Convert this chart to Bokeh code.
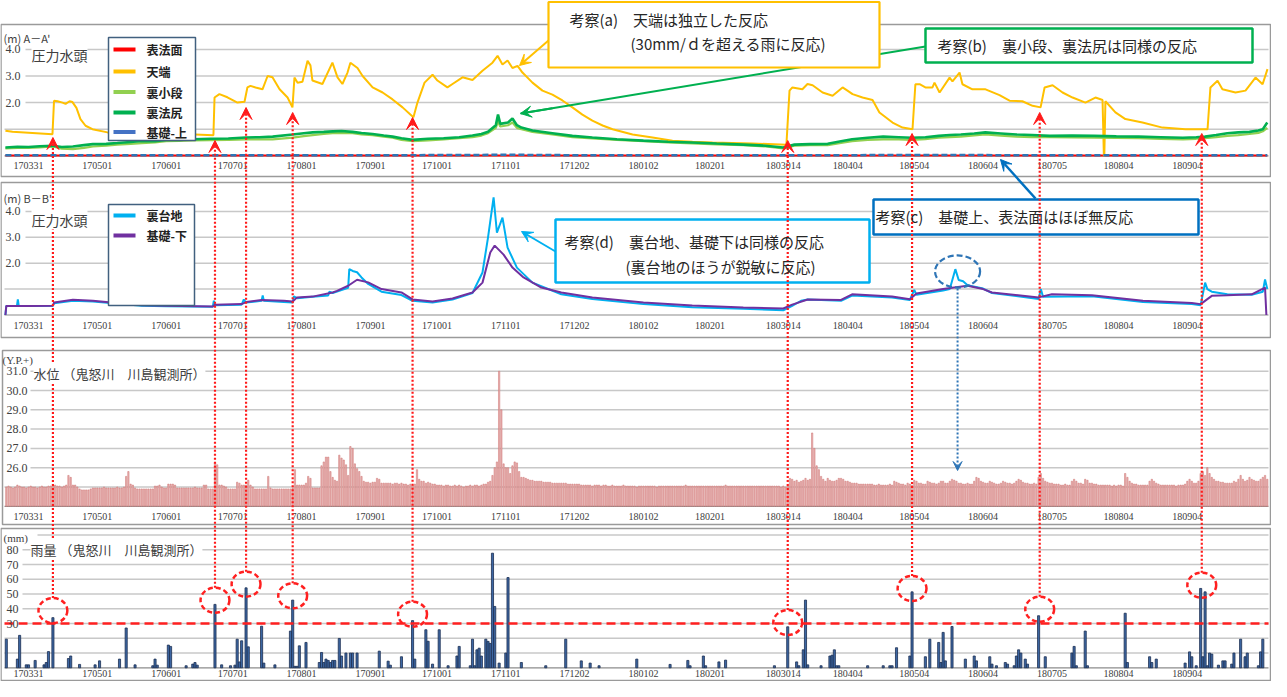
from bokeh.plotting import figure
from bokeh.models import Range1d, Label, Arrow, VeeHead
from bokeh.core.properties import value
from bokeh.embed import file_html
from bokeh.resources import INLINE

JP = "Noto Sans CJK JP"
SERIF = "Liberation Serif"

# ---------------- data ----------------
# x = days since 2017-03-31
tick_days = [0, 31, 62, 92, 123, 154, 184, 215, 246, 277, 307, 340, 369, 399, 430, 461, 491, 522]
tick_labels = ["170331", "170501", "170601", "170701", "170801", "170901", "171001", "171101", "171202",
               "180102", "180201", "1803014", "180404", "180504", "180604", "180705", "180804", "180904"]

# Panel 1: A-A' pressure head (m)
tenba_day = [-10.4, -7.2, 1.8, 10.8, 11.5, 13.1, 15.3, 16.7, 18.5, 19.8, 21.6, 23.4, 25.7, 28.8, 35.6, 51.4, 69.4,
             83.3, 83.8, 86, 89.6, 94.1, 97.3, 98.6, 100, 102.3, 105.4, 107.7, 109.9, 113.1, 116.7, 118.9, 119.8,
             121.2, 123.4, 125.7, 127, 127.9, 132.4, 136.9, 139.2, 141.4, 143.7, 145, 148.2, 150.5, 155, 159.5,
             164, 168.5, 172, 173.4, 175.2, 178.4, 182, 184.2, 188.7, 191, 195.5, 200, 204.5, 209, 211.3, 213.5,
             215.8, 218, 220.3, 222.5, 227, 231.5, 236, 240.5, 245, 249.5, 254, 258.6, 263.1, 272.1, 281.1, 290.1,
             299.1, 308.1, 326.1, 341.4, 342.8, 344.1, 348.6, 350.9, 353.2, 357.7, 362.2, 366.7, 368.9, 371.2,
             375.7, 380.2, 383.3, 389.2, 393.7, 398.2, 399.5, 401.4, 404, 407.2, 408.1, 410.4, 414.9, 416.2,
             419.4, 420.7, 425.2, 431.1, 437.4, 441.9, 447.7, 452.3, 455.9, 457.7, 461.3, 465.8, 470.3, 476.1,
             480.6, 483.8, 484.4, 484.6, 485.1, 489.6, 494.1, 501.8, 510.8, 521.2, 531.1, 532.4, 535.6, 537.8,
             543.7, 548.2, 552.7, 555.9, 558.1]
tenba_val = [0.94, 0.9, 0.86, 0.81, 2.07, 2.05, 2.0, 1.95, 2.05, 2.02, 1.8, 1.38, 1.13, 1.0, 0.88, 0.84, 0.82,
             0.77, 2.19, 2.32, 2.2, 2.0, 2.03, 2.57, 2.63, 2.57, 2.5, 3.0, 2.95, 2.5, 2.19, 1.82, 2.94,
             2.75, 2.78, 3.57, 3.4, 2.83, 2.7, 3.5, 2.95, 2.7, 3.13, 3.5, 3.3, 3.0, 2.57, 2.38,
             2.12, 1.82, 1.55, 1.45, 2.0, 2.75, 3.05, 2.83, 2.57, 2.7, 2.95, 2.85, 3.2, 3.5, 3.76, 3.43,
             3.58, 3.3, 3.38, 3.13, 2.75, 2.45, 2.3, 2.08, 1.82, 1.55, 1.32, 1.14, 1.0, 0.8, 0.69, 0.57,
             0.53, 0.5, 0.46, 0.42, 2.45, 2.57, 2.5, 2.7, 2.65, 2.38, 2.26, 2.57, 2.45, 2.32,
             2.19, 2.1, 1.63, 1.25, 1.06, 1.0, 2.69, 2.69, 2.57, 2.57, 2.75, 2.38, 2.94, 2.8,
             3.13, 2.69, 2.5, 2.5, 2.28, 2.07, 2.05, 1.88, 1.82, 2.57, 2.65, 2.38, 2.19, 2.0,
             2.19, 2.1, 0.0, 0.0, 2.05, 1.63, 1.38, 1.25, 1.06, 1.0, 1.0, 2.57, 2.82, 2.5,
             2.38, 2.45, 2.94, 2.69, 3.26]

hojiri_day = [-10.4, -5, 0, 5, 11, 15, 20, 25, 29, 35, 40, 46, 51, 57, 62, 68, 74, 82, 90, 98, 104, 110, 119,
              124, 128, 133, 137, 141, 146, 150, 155, 160, 164, 168, 173, 180, 187, 194, 200, 204, 207, 210.5,
              211.5, 212.5, 216, 218, 220, 222, 227, 236, 245, 254, 265, 277, 288, 299, 310, 322, 332, 340, 345,
              352, 360, 366, 371, 378, 385, 392, 398, 404, 410, 415, 420, 426, 431, 438, 445, 452, 460, 470, 480,
              490, 500, 510, 520, 526, 530, 535, 540, 545, 550, 554, 556, 558]
hojiri_val = [0.31, 0.34, 0.33, 0.36, 0.38, 0.33, 0.35, 0.4, 0.44, 0.45, 0.48, 0.52, 0.56, 0.55, 0.6, 0.6, 0.62,
              0.64, 0.65, 0.69, 0.7, 0.72, 0.8, 0.85, 0.88, 0.9, 0.92, 0.93, 0.9, 0.86, 0.82, 0.76, 0.72, 0.66,
              0.6, 0.64, 0.66, 0.7, 0.76, 0.82, 0.9, 1.15, 1.55, 1.2, 1.25, 1.4, 1.15, 1.06, 0.95, 0.85, 0.75,
              0.69, 0.62, 0.57, 0.53, 0.5, 0.46, 0.42, 0.38, 0.31, 0.42, 0.44, 0.45, 0.55, 0.62, 0.68, 0.72,
              0.7, 0.68, 0.7, 0.75, 0.78, 0.8, 0.84, 0.88, 0.84, 0.8, 0.78, 0.75, 0.76, 0.75, 0.73, 0.72, 0.7,
              0.68, 0.7, 0.72, 0.78, 0.85, 0.88, 0.9, 0.95, 1.0, 1.25]

kodan_day = [-10.4, -5, 0, 5, 11, 15, 20, 25, 29, 35, 40, 46, 51, 57, 62, 68, 74, 82, 90, 98, 104, 110, 119,
             124, 128, 133, 137, 141, 146, 150, 155, 160, 164, 168, 173, 180, 187, 194, 200, 204, 207, 210.5,
             211.5, 212.5, 216, 218, 220, 222, 227, 236, 245, 254, 265, 277, 288, 299, 310, 322, 332, 340, 345,
             352, 360, 366, 371, 378, 385, 392, 398, 404, 410, 415, 420, 426, 431, 438, 445, 452, 460, 470, 480,
             490, 500, 510, 520, 526, 530, 535, 540, 545, 550, 554, 556, 558]
kodan_val = [0.28, 0.3, 0.3, 0.32, 0.35, 0.27, 0.25, 0.3, 0.35, 0.38, 0.42, 0.45, 0.48, 0.5, 0.55, 0.56, 0.58,
             0.59, 0.6, 0.62, 0.62, 0.62, 0.68, 0.74, 0.78, 0.82, 0.85, 0.86, 0.85, 0.8, 0.78, 0.72, 0.68, 0.6,
             0.55, 0.58, 0.62, 0.66, 0.7, 0.76, 0.85, 1.05, 1.3, 1.1, 1.15, 1.25, 1.05, 1.0, 0.9, 0.8, 0.7,
             0.65, 0.6, 0.55, 0.5, 0.47, 0.43, 0.4, 0.35, 0.28, 0.38, 0.4, 0.4, 0.48, 0.55, 0.6, 0.62,
             0.62, 0.6, 0.63, 0.68, 0.7, 0.72, 0.77, 0.8, 0.76, 0.72, 0.7, 0.7, 0.69, 0.68, 0.67, 0.66, 0.64,
             0.62, 0.64, 0.66, 0.7, 0.75, 0.78, 0.82, 0.86, 0.92, 1.05]

omote_day = [-10.4, 40, 100, 160, 220, 280, 340, 400, 460, 520, 558]
omote_val = [0.01, 0.01, 0.01, 0.01, 0.01, 0.01, 0.01, 0.01, 0.01, 0.01, 0.01]

kiso_ue_day = [-10.4, 20, 60, 100, 150, 200, 215, 250, 300, 350, 400, 420, 450, 500, 558]
kiso_ue_val = [0.02, 0.02, 0.02, 0.02, 0.02, 0.03, 0.04, 0.02, 0.02, 0.02, 0.03, 0.03, 0.02, 0.02, 0.02]

# Panel 2: B-B' pressure head (m)
uradai_day = [-10.4, -10, -5.2, -4.8, -4.4, 0, 11, 11.5, 20, 29, 42, 51, 62, 83, 83.5, 84, 96, 97, 98, 105,
              105.5, 106, 115, 119, 119.5, 121, 128, 135, 135.5, 137, 144, 144.5, 146, 148, 150, 153, 159, 168,
              173, 182, 191, 200, 204.5, 207, 209.5, 211, 213.5, 215.8, 220, 227, 240, 254, 277, 299, 322, 340,
              344, 348, 351, 366, 371, 389, 397, 399, 400, 412, 415, 417.5, 419, 421, 423, 430, 434, 455, 456,
              457, 479, 502, 524, 528, 530, 531, 533, 540, 551, 556, 557, 558]
uradai_val = [0.0, 0.35, 0.35, 0.6, 0.35, 0.35, 0.36, 0.45, 0.55, 0.52, 0.42, 0.36, 0.34, 0.32, 0.55, 0.38,
              0.4, 0.6, 0.48, 0.55, 0.75, 0.55, 0.5, 0.48, 0.72, 0.65, 0.7, 0.75, 0.9, 0.85, 1.05, 1.77, 1.7,
              1.65, 1.45, 1.2, 0.9, 0.77, 0.55, 0.48, 0.6, 0.85, 1.64, 3.0, 4.54, 3.18, 3.76, 2.6, 1.83, 1.25,
              0.8, 0.62, 0.42, 0.3, 0.24, 0.18, 0.35, 0.55, 0.6, 0.55, 0.75, 0.68, 0.58, 0.97, 0.78, 0.95,
              1.0, 1.77, 1.35, 1.3, 1.15, 1.02, 0.85, 0.62, 1.0, 0.7, 0.72, 0.5, 0.42, 0.38, 1.25, 1.0, 0.9,
              0.8, 0.78, 0.9, 1.37, 1.0]

kiso_shita_day = [-10.4, -10, 0, 11, 11.5, 20, 29, 42, 51, 62, 83, 84, 96, 98, 105, 115, 119, 121, 128, 137,
                  139, 144, 148, 153, 159, 168, 173, 182, 191, 200, 204.5, 208, 210, 214, 218, 223, 231, 240, 254,
                  277, 299, 322, 340, 344, 351, 366, 371, 389, 397, 400, 412, 417, 423, 430, 434, 455, 461, 479,
                  502, 524, 528, 533, 540, 551, 557, 557.6]
kiso_shita_val = [0.0, 0.35, 0.35, 0.36, 0.48, 0.59, 0.55, 0.44, 0.38, 0.36, 0.33, 0.4, 0.42, 0.5, 0.58, 0.55,
                  0.52, 0.68, 0.71, 0.87, 0.93, 1.13, 1.36, 1.26, 1.0, 0.87, 0.6, 0.52, 0.64, 0.87, 1.25, 2.41,
                  2.68, 2.33, 1.83, 1.45, 1.06, 0.87, 0.68, 0.48, 0.37, 0.29, 0.25, 0.4, 0.6, 0.58, 0.8, 0.71,
                  0.61, 0.83, 1.0, 1.06, 1.13, 1.0, 0.87, 0.68, 0.8, 0.76, 0.55, 0.46, 0.42, 0.74, 0.76, 0.8,
                  1.06, 0.0]

# Panel 3: water level Y.P.+ (m), daily from day -10
wl_first_day = -10
water_level = [
    25.0, 25.05, 25.0, 24.95, 25.0, 25.1, 25.05, 25.0, 25.0, 24.95,
    25.0, 25.05, 25.0, 25.0, 24.95, 25.0, 25.05, 25.0, 25.0, 25.05,
    25.05, 25.05, 25.1, 25.05, 25.05, 25.0, 25.05, 25.1, 25.6, 25.5,
    25.1, 25.1, 25.0, 24.9, 24.85, 24.85, 24.85, 24.85, 24.9, 24.95,
    24.95, 24.95, 24.95, 24.95, 25.0, 24.95, 24.95, 24.95, 24.95, 24.95,
    25.0, 24.95, 24.95, 25.0, 25.55, 25.8, 25.15, 25.1, 24.95, 24.9,
    24.9, 24.9, 24.9, 24.9, 24.9, 24.9, 24.9, 25.05, 25.05, 25.1,
    25.0, 24.95, 24.95, 25.15, 25.15, 25.15, 25.1, 24.95, 24.95, 24.95,
    24.95, 24.95, 24.95, 24.95, 24.95, 25.0, 24.95, 24.95, 24.95, 25.1,
    25.1, 24.9, 24.9, 24.9, 26.25, 26.15, 25.1, 25.1, 25.05, 25.0,
    24.9, 24.9, 24.9, 24.9, 25.25, 25.2, 25.1, 25.1, 25.1, 25.35,
    25.1, 25.0, 24.9, 24.9, 24.9, 24.9, 24.9, 24.9, 25.55, 24.95,
    24.9, 24.9, 24.9, 24.9, 24.9, 24.9, 24.9, 24.9, 24.9, 24.95,
    25.9, 25.1, 25.1, 25.1, 25.1, 25.2, 25.55, 25.45, 24.95, 24.95,
    24.95, 24.95, 26.1, 26.3, 26.55, 26.55, 25.8, 25.5, 25.35, 25.3,
    26.65, 26.5, 26.4, 26.15, 25.6, 27.1, 27.0, 26.2, 25.95, 25.8,
    25.55, 25.3, 25.25, 25.25, 25.2, 25.25, 25.25, 25.45, 25.4, 25.2,
    25.2, 25.2, 25.2, 25.2, 25.15, 25.2, 25.2, 25.15, 25.2, 25.15,
    25.15, 25.1, 25.15, 25.1, 25.15, 25.9, 25.4, 25.3, 25.3, 25.2,
    25.25, 25.2, 25.15, 25.15, 25.1, 25.1, 25.1, 25.05, 25.1, 25.1,
    25.05, 25.05, 25.1, 25.05, 25.1, 25.05, 25.0, 25.05, 25.05, 25.1,
    25.05, 25.1, 25.1, 25.05, 25.1, 25.15, 25.15, 25.25, 25.3, 25.6,
    26.0, 26.3, 31.0, 29.0, 26.2, 26.0, 26.0, 25.7, 26.1, 26.3,
    26.25, 25.8, 25.5, 25.5, 25.45, 25.4, 25.35, 25.35, 25.3, 25.3,
    25.3, 25.3, 25.25, 25.25, 25.25, 25.25, 25.2, 25.2, 25.2, 25.2,
    25.2, 25.2, 25.2, 25.15, 25.15, 25.15, 25.15, 25.15, 25.15, 25.1,
    25.1, 25.1, 25.1, 25.1, 25.05, 25.1, 25.1, 25.1, 25.05, 25.1,
    25.1, 25.05, 25.05, 25.1, 25.05, 25.05, 25.05, 25.05, 25.1, 25.05,
    25.05, 25.05, 25.05, 25.05, 25.0, 25.05, 25.05, 25.05, 25.05, 25.05,
    25.05, 25.05, 25.05, 25.0, 25.05, 25.05, 25.05, 25.05, 25.05, 25.05,
    25.05, 25.05, 25.05, 25.05, 25.05, 25.05, 25.1, 25.05, 25.05, 25.05,
    25.05, 25.05, 25.05, 25.05, 25.05, 25.05, 25.05, 25.05, 25.05, 25.05,
    25.05, 25.05, 25.05, 25.05, 25.1, 25.05, 25.05, 25.05, 25.05, 25.05,
    25.05, 25.05, 25.05, 25.05, 25.05, 25.05, 25.05, 25.05, 25.05, 25.05,
    25.05, 25.05, 25.05, 25.05, 25.05, 25.05, 25.05, 25.05, 25.05, 25.0,
    25.05, 25.0, 25.05, 25.45, 25.4, 25.3, 25.35, 25.25, 25.3, 25.35,
    25.45, 25.35, 25.4, 27.8, 27.0, 26.1, 25.9, 25.55, 25.4, 25.3,
    25.45, 25.35, 25.3, 25.3, 25.35, 25.45, 25.45, 25.4, 25.3, 25.3,
    25.25, 25.2, 25.2, 25.2, 25.15, 25.15, 25.15, 25.15, 25.15, 25.15,
    25.15, 25.1, 25.1, 25.15, 25.1, 25.1, 25.1, 25.1, 25.15, 25.1,
    25.3, 25.25, 25.2, 25.15, 25.15, 25.1, 25.2, 25.15, 25.1, 25.35,
    25.3, 25.2, 25.2, 25.15, 25.15, 25.3, 25.25, 25.2, 25.2, 25.15,
    25.2, 25.3, 25.3, 25.2, 25.2, 25.3, 25.4, 25.35, 25.3, 25.2,
    25.2, 25.15, 25.15, 25.2, 25.15, 25.15, 25.3, 25.5, 25.45, 25.3,
    25.25, 25.2, 25.2, 25.3, 25.25, 25.2, 25.15, 25.15, 25.2, 25.3,
    25.25, 25.2, 25.2, 25.15, 25.2, 25.3, 25.4, 25.35, 25.25, 25.2,
    25.2, 25.15, 25.15, 25.2, 25.15, 25.5, 25.7, 25.45, 25.3, 25.25,
    25.2, 25.2, 25.15, 25.15, 25.15, 25.1, 25.1, 25.15, 25.1, 25.1,
    25.3, 25.4, 25.3, 25.2, 25.2, 25.15, 25.4, 25.35, 25.2, 25.2,
    25.15, 25.15, 25.1, 25.1, 25.1, 25.1, 25.1, 25.1, 25.05, 25.1,
    25.05, 25.1, 25.1, 25.05, 25.7, 25.5, 25.3, 25.2, 25.15, 25.15,
    25.1, 25.1, 25.1, 25.1, 25.1, 25.3, 25.4, 25.3, 25.2, 25.15,
    25.1, 25.1, 25.1, 25.1, 25.1, 25.1, 25.1, 25.05, 25.1, 25.1,
    25.1, 25.15, 25.3, 25.4, 25.3, 25.2, 25.2, 25.3, 25.7, 25.8,
    25.6, 26.0, 25.7, 25.5, 25.4, 25.3, 25.3, 25.25, 25.25, 25.2,
    25.2, 25.2, 25.2, 25.3, 25.25, 25.4, 25.6, 25.4, 25.3, 25.35,
    25.5, 25.4, 25.35, 25.3, 25.3, 25.4, 25.5, 25.6, 25.4,
]
wl_day = [wl_first_day + i for i in range(len(water_level))]

# Panel 4: daily rainfall (mm), only rainy days
rain_day = [-10, -5, -4, -1, 0, 3, 7, 8, 9, 11, 18, 19, 23, 30, 32, 41, 44, 48, 56, 57, 58, 63, 64, 71, 74, 75,
            76, 84, 87, 91, 93, 94, 95, 96, 98, 99, 105, 106, 111, 118, 119, 120, 121, 122, 125, 131, 132, 133,
            134, 135, 136, 137, 138, 140, 141, 143, 145, 146, 148, 158, 162, 163, 168, 173, 174, 179, 180, 182,
            185, 189, 193, 194, 199, 200, 201, 202, 203, 204, 206, 207, 208, 209, 210, 212, 215, 216, 222, 233,
            242, 249, 253, 257, 274, 289, 297, 298, 304, 305, 311, 314, 336, 342, 346, 347, 349, 350, 351, 357,
            361, 362, 363, 364, 365, 378, 385, 388, 389, 391, 397, 398, 404, 406, 410, 411, 412, 413, 416, 422,
            426, 427, 433, 434, 436, 440, 441, 444, 445, 446, 447, 449, 450, 455, 458, 470, 471, 472, 476, 477,
            494, 495, 505, 506, 508, 521, 523, 524, 526, 528, 529, 530, 531, 532, 533, 536, 538, 539, 542, 543,
            546, 548, 549, 554, 555, 556]
rain_mm = [19.4, 5.9, 22, 2, 2, 5, 2, 3.6, 11, 34, 6.3, 8, 2.3, 2, 4.7, 5.9, 27, 2, 1.4, 5.9, 1.8, 15.4, 14.5,
           1.4, 2.5, 3.6, 1.8, 43, 2, 1.4, 1.8, 19.4, 4, 18.3, 54.2, 14.2, 28.2, 3.2, 2, 24.9, 45.9, 1, 1, 14.9,
           17.2, 3.6, 10.4, 3.6, 5.9, 5, 3.6, 5, 5, 19.9, 8, 10, 10, 10, 10, 11.3, 4.5, 1.8, 7.5, 32, 5.9, 25.8,
           18, 2.5, 25.8, 1.4, 8, 14.5, 1.4, 19.4, 1.4, 12.2, 13.3, 8, 19.4, 17.9, 16.5, 77.7, 41.6, 3.2, 10,
           61.2, 3.6, 1.4, 19.4, 4.7, 3.2, 1.4, 5.9, 2.3, 5, 1.4, 8, 1.4, 4, 5.2, 1.4, 27.8, 4, 1.4, 12.2, 45.9,
           2, 1.4, 8, 8.6, 12.2, 1.4, 1.4, 1.4, 1.4, 1.4, 1.4, 13.6, 8, 51.5, 7.5, 19.4, 17.2, 3.6, 24, 4.7, 28,
           5.9, 8, 4.7, 7.5, 2.5, 1.4, 3.6, 2.5, 1.4, 8, 12.2, 10, 5.9, 2.5, 35.3, 7.5, 10, 14.5, 1.4, 24.9, 1.4,
           37, 3.6, 7.5, 3.6, 5.9, 3.2, 10.8, 7.5, 1.4, 53.8, 7.5, 51.5, 1.4, 10, 9.3, 1.8, 4.7, 4.7, 2.5, 10,
           19.4, 7.5, 10, 1.4, 10.8, 19.4]
rain_threshold = 30

# rain events (> 30 mm/d) marked on the chart
event_day = [11, 84, 98, 119, 173, 342, 398, 455.5, 528.5]
event_circle_mm = [38.8, 45.8, 56.7, 48.8, 36.3, 30.7, 53.8, 39.7, 56.0]

# ---------------- figure ----------------
X0, KX = 36.0, 2.22  # page px of day 0, px per day
PX_L, PX_R, PX_T, PX_B = 8, 1279, 8, 689   # page area covered by the figure


def day_at(px):
    return (px - X0) / KX


def vrange(v_ref, y_ref, k):
    return Range1d(start=v_ref - (PX_B - y_ref) / k, end=v_ref + (y_ref - PX_T) / k)


p = figure(width=PX_R - PX_L, height=PX_B - PX_T, x_range=Range1d(day_at(PX_L), day_at(PX_R)),
           y_range=Range1d(PX_B, PX_T), output_backend="svg", toolbar_location=None, min_border=0,
           x_axis_type=None, y_axis_type=None)
p.outline_line_color = None
p.background_fill_color = "white"
p.border_fill_color = "white"
p.extra_x_ranges = {"px": Range1d(PX_L, PX_R)}
p.extra_y_ranges = {
    "p1": vrange(0, 163.3, 26.6),
    "p2": vrange(0, 322.5, 25.9),
    "p3": vrange(31, 378.7, 19.3),
    "p4": vrange(0, 675.3, 1.475),
}

GRID = "#C8C8C8"
FRAME = "#9A9A9A"
TXT = "#404040"

# panel frames
p.quad(left=[8.5, 8.5, 10, 8.5], right=[1278, 1278, 1278, 1278], top=[32, 190, 358, 536],
       bottom=[184, 345, 532, 688], x_range_name="px", fill_color=None, line_color=FRAME, line_width=1.5)

# grid lines (x0 shortened where the tick label sits)
def grid(rname, vals, x0s):
    p.segment(x0=x0s, y0=vals, x1=[1276] * len(vals), y1=vals, x_range_name="px", y_range_name=rname,
              line_color=GRID, line_width=1.5)

grid("p1", [1, 2, 3, 4], [12, 33, 33, 33])
grid("p2", [1, 2, 3, 4], [12, 33, 33, 33])
grid("p3", [25, 26, 27, 28, 29, 30, 31], [12, 38, 38, 38, 38, 38, 38])
grid("p4", [10, 20, 30, 40, 50, 60, 70, 80, 90], [12, 12, 30, 30, 30, 30, 30, 30, 45])

# axis base lines
for rname, base in (("p1", 0), ("p2", 0), ("p3", 24.0), ("p4", 0)):
    p.segment(x0=[12], y0=[base], x1=[1276], y1=[base], x_range_name="px", y_range_name=rname,
              line_color="#8C8C8C", line_width=1.2)

# ---- panel 3: water level bars
p.vbar(x=wl_day, top=water_level, bottom=24.0, width=0.6, y_range_name="p3",
       fill_color="#E9B5B5", line_color="#CD6F6C", line_width=0.5)

# ---- panel 4: rain bars
p.vbar(x=rain_day, top=rain_mm, bottom=0, width=0.95, y_range_name="p4",
       fill_color="#3D67A3", line_color="#1C2F52", line_width=0.8)
p.segment(x0=[12], y0=[rain_threshold], x1=[1276], y1=[rain_threshold], x_range_name="px", y_range_name="p4",
          line_color="#FF2020", line_width=2.5, line_dash="9 5")

# ---- panel 1 lines
p.line(omote_day, omote_val, y_range_name="p1", line_color="#FF0000", line_width=2)
p.line(tenba_day, tenba_val, y_range_name="p1", line_color="#FFC000", line_width=2)
p.line(kodan_day, kodan_val, y_range_name="p1", line_color="#92D050", line_width=2.2)
p.line(hojiri_day, hojiri_val, y_range_name="p1", line_color="#00B050", line_width=2.6)
p.line(kiso_ue_day, kiso_ue_val, y_range_name="p1", line_color="#2E75B6", line_width=2.5, line_dash="6 3")

# ---- panel 2 lines
p.line(uradai_day, uradai_val, y_range_name="p2", line_color="#00B0F0", line_width=2)
p.line(kiso_shita_day, kiso_shita_val, y_range_name="p2", line_color="#7030A0", line_width=2)

# ---- tick labels
for ty in (173, 333, 524, 681):
    p.text(x=tick_days, y=[ty] * len(tick_days), text=tick_labels, text_font=value(SERIF),
           text_font_size="10px", text_color=TXT, text_align="center", text_baseline="middle")

def yticks(rname, vals, labels, xr):
    p.text(x=[xr] * len(vals), y=vals, text=labels, x_range_name="px", y_range_name=rname,
           text_font=value(SERIF), text_font_size="12px", text_color=TXT, text_align="right",
           text_baseline="middle")

yticks("p1", [2, 3, 4], ["2.0", "3.0", "4.0"], 28)
yticks("p2", [2, 3, 4], ["2.0", "3.0", "4.0"], 28)
yticks("p3", [26, 27, 28, 29, 30, 31], ["26.0", "27.0", "28.0", "29.0", "30.0", "31.0"], 35)
yticks("p4", [30, 40, 50, 60, 70, 80], ["30", "40", "50", "60", "70", "80"], 26)

# ---- legends (drawn boxes)
p.quad(left=[116, 116], right=[203, 202], top=[45, 212], bottom=[148, 313], x_range_name="px",
       fill_color="white", line_color="#41607F", line_width=1.5)
leg_names = ["表法面", "天端", "裏小段", "裏法尻", "基礎-上", "裏台地", "基礎-下"]
leg_colors = ["#FF0000", "#FFC000", "#92D050", "#00B050", "#4472C4", "#00B0F0", "#7030A0"]
leg_y = [57, 79, 99.5, 120, 139.5, 223, 243]
p.segment(x0=[121] * 7, y0=leg_y, x1=[143] * 7, y1=leg_y, x_range_name="px", line_color=leg_colors,
          line_width=4)
for name, yy in zip(leg_names, leg_y):
    p.add_layout(Label(x=154, y=yy, x_range_name="px", text=name, text_font=JP, text_font_size="12px",
                       text_font_style="bold", text_color="#222222", text_baseline="middle"))

# ---- callouts
GREEN, ORANGE, BLUE, CYAN = "#00B050", "#FFC000", "#0070C0", "#00B0F0"
p.segment(x0=[933], y0=[54], x1=[528], y1=[121], x_range_name="px", line_color=GREEN, line_width=2)
p.quad(left=[556], right=[887], top=[9.5], bottom=[75], x_range_name="px", fill_color="white",
       line_color=ORANGE, line_width=2.2)
p.quad(left=[933], right=[1260], top=[36], bottom=[70], x_range_name="px", fill_color="white",
       line_color=GREEN, line_width=2.5)
p.quad(left=[881], right=[1206], top=[207], bottom=[242], x_range_name="px", fill_color="white",
       line_color=BLUE, line_width=2.5)
p.quad(left=[563], right=[877], top=[227], bottom=[290], x_range_name="px", fill_color="white",
       line_color=CYAN, line_width=2.5)

# dashed circles
p.ellipse(x=event_day, y=event_circle_mm, width=13, height=17, y_range_name="p4", fill_color=None,
          line_color="#FF2020", line_width=2.5, line_dash="5 3")
p.ellipse(x=[418.5], y=[1.68], width=20.3, height=1.24, y_range_name="p2", fill_color=None,
          line_color="#2E75B6", line_width=2.2, line_dash="6 3")

# arrows
def arrow(x0, y0, x1, y1, color, w=2.0, dash="solid", xr="px", size=11):
    kw = dict(x_start=x0, y_start=y0, x_end=x1, y_end=y1, line_color=color, line_width=w, line_dash=dash,
              end=VeeHead(size=size, fill_color=color, line_color=color, line_width=1))
    if xr:
        kw["x_range_name"] = xr
    p.add_layout(Arrow(**kw))

arrow(556, 48, 527, 73, ORANGE)
arrow(560, 115.7, 528, 121, GREEN)
arrow(1043, 206, 1008, 167, BLUE, w=2.5)
arrow(563, 259, 529, 239, CYAN)
arrow(418.5, 296, 418.5, 478, "#2E75B6", w=2, dash="2 2", xr=None, size=9)

tip_y = [145, 148, 115, 120, 125, 148, 141, 120, 141]
for d, ty, c in zip(event_day, tip_y, event_circle_mm):
    ctop = 675.3 - 1.475 * (c + 8.5)
    arrow(d, ctop, d, ty, "#FF1A1A", w=2.2, dash="2 2", xr=None, size=12)

# ---- texts
def label(x, y, text, size="15px", font=JP, color="#262626", bg=None, style="normal"):
    kw = dict(x=x, y=y, x_range_name="px", text=text, text_font=font, text_font_size=size, text_color=color,
              text_baseline="middle", text_font_style=style)
    if bg:
        kw["background_fill_color"] = bg
    p.add_layout(Label(**kw))

label(577, 27, "考察(a)　天端は独立した反応")
label(638, 51, "(30mm/ｄを超える雨に反応)")
label(945, 53, "考察(b)　裏小段、裏法尻は同様の反応")
label(883, 224, "考察(c)　基礎上、表法面はほぼ無反応")
label(572, 249, "考察(d)　裏台地、基礎下は同様の反応")
label(633, 274, "(裏台地のほうが鋭敏に反応)")

label(11, 45, "(m)  A－A'", size="11px", color=TXT)
label(39, 62, "圧力水頭", size="14px", color=TXT, bg="white")
label(11, 205, "(m)  B－B'", size="11px", color=TXT)
label(39, 227, "圧力水頭", size="14px", color=TXT, bg="white")
label(10, 367, "(Y.P.+)", size="11px", font=SERIF, color=TXT)
label(41, 381, "水位 （鬼怒川　川島観測所）", size="13px", color=TXT, bg="white")
label(11, 545, "(mm)", size="11px", font=SERIF, color=TXT)
label(38, 557, "雨量 （鬼怒川　川島観測所）", size="13px", color=TXT, bg="white")

open("out.html", "w").write(file_html(p, INLINE))
